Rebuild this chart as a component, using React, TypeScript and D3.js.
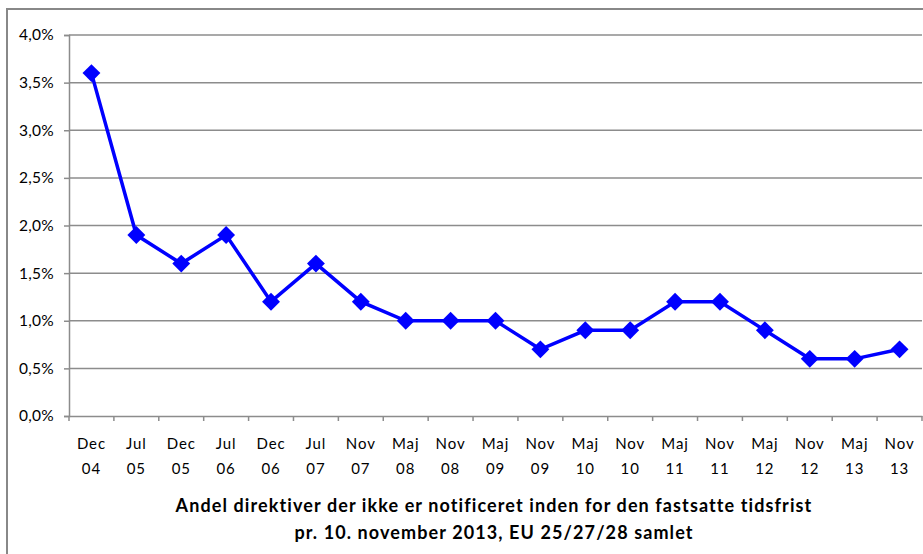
import React, { useEffect, useRef } from 'react';
import * as d3 from 'd3';

const months = ['Dec', 'Jul', 'Dec', 'Jul', 'Dec', 'Jul', 'Nov', 'Maj', 'Nov', 'Maj', 'Nov', 'Maj', 'Nov', 'Maj', 'Nov', 'Maj', 'Nov', 'Maj', 'Nov'];
const years = ['04', '05', '05', '06', '06', '07', '07', '08', '08', '09', '09', '10', '10', '11', '11', '12', '12', '13', '13'];
const shares = [3.6, 1.9, 1.6, 1.9, 1.2, 1.6, 1.2, 1.0, 1.0, 1.0, 0.7, 0.9, 0.9, 1.2, 1.2, 0.9, 0.6, 0.6, 0.7];
const yTicks = [0, 0.5, 1, 1.5, 2, 2.5, 3, 3.5, 4];
const titleLines = [
  'Andel direktiver der ikke er notificeret inden for den fastsatte tidsfrist',
  'pr. 10. november 2013, EU 25/27/28 samlet',
];

const W = 923;
const H = 554;
const FONT = 'Lato, "Open Sans", sans-serif';

const App: React.FC = () => {
  const svgRef = useRef<SVGSVGElement>(null);

  useEffect(() => {
    if (!svgRef.current) return;
    const svg = d3.select(svgRef.current);
    svg.selectAll('*').remove();

    const left = 69, right = 922, top = 35, bottom = 416;

    // outer chart frame (only top and left visible)
    svg.append('rect')
      .attr('x', 7).attr('y', 9)
      .attr('width', W + 10).attr('height', H + 10)
      .attr('fill', 'white')
      .attr('stroke', '#888').attr('stroke-width', 2);

    const idx = d3.range(shares.length);
    const x = d3.scaleBand<number>().domain(idx).range([left, right]);
    const y = d3.scaleLinear().domain([0, 4]).range([bottom, top]);
    const cx = (i: number) => (x(i) as number) + x.bandwidth() / 2;

    // gridlines
    svg.append('g')
      .selectAll('line')
      .data(yTicks.filter((t) => t > 0))
      .join('line')
      .attr('x1', left).attr('x2', right)
      .attr('y1', (d) => y(d)).attr('y2', (d) => y(d))
      .attr('stroke', '#8c8c8c').attr('stroke-width', 1.5);

    // y axis
    const yAxis = svg.append('g')
      .attr('transform', `translate(${left},0)`)
      .call(d3.axisLeft(y).tickValues(yTicks).tickSize(5).tickPadding(10)
        .tickFormat((d) => (d as number).toFixed(1).replace('.', ',') + '%'));
    yAxis.select('.domain').attr('stroke', '#8c8c8c').attr('stroke-width', 1.5);
    yAxis.selectAll('.tick line').attr('stroke', '#8c8c8c').attr('stroke-width', 1.5);
    yAxis.selectAll('.tick text')
      .attr('fill', '#000').attr('font-size', 15.5).attr('font-family', FONT)
      .attr('letter-spacing', 0.3);

    // x axis
    const xAxis = svg.append('g')
      .attr('transform', `translate(0,${bottom})`)
      .call(d3.axisBottom(x).tickSize(0).tickFormat(() => ''));
    xAxis.select('.domain').attr('stroke', '#8c8c8c').attr('stroke-width', 1.5);
    svg.append('g')
      .selectAll('line')
      .data(d3.range(shares.length + 1))
      .join('line')
      .attr('x1', (i) => left + i * x.step()).attr('x2', (i) => left + i * x.step())
      .attr('y1', bottom).attr('y2', bottom + 5)
      .attr('stroke', '#8c8c8c').attr('stroke-width', 1.5);

    const labels = svg.append('g')
      .attr('font-family', FONT).attr('font-size', 15)
      .attr('text-anchor', 'middle').attr('fill', '#000');
    labels.selectAll('text.m')
      .data(months)
      .join('text')
      .attr('class', 'm')
      .attr('x', (_, i) => cx(i)).attr('y', 449)
      .attr('letter-spacing', 0.9)
      .text((d) => d);
    labels.selectAll('text.yr')
      .data(years)
      .join('text')
      .attr('class', 'yr')
      .attr('x', (_, i) => cx(i)).attr('y', 474)
      .attr('letter-spacing', 0.9)
      .text((d) => d);

    // line
    const line = d3.line<number>().x((_, i) => cx(i)).y((d) => y(d));
    svg.append('path')
      .datum(shares)
      .attr('d', line)
      .attr('fill', 'none')
      .attr('stroke', '#0000ff')
      .attr('stroke-width', 3.5);

    // diamond markers
    const diamond = d3.symbol().type(d3.symbolSquare).size(160);
    svg.append('g')
      .selectAll('path')
      .data(shares)
      .join('path')
      .attr('d', diamond)
      .attr('transform', (d, i) => `translate(${cx(i)},${y(d)}) rotate(45)`)
      .attr('fill', '#0000ff');

    // title
    svg.append('g')
      .selectAll('text')
      .data(titleLines)
      .join('text')
      .attr('x', 494).attr('y', (_, i) => 512 + i * 27)
      .attr('text-anchor', 'middle')
      .attr('font-family', FONT)
      .attr('font-weight', 'bold')
      .attr('font-size', 18)
      .attr('letter-spacing', 1.1)
      .attr('fill', '#000')
      .text((d) => d);
  }, []);

  return (
    <div style={{ position: 'absolute', left: 0, top: 0 }}>
      <svg ref={svgRef} width={W} height={H} style={{ display: 'block' }}></svg>
    </div>
  );
};

export default App;
